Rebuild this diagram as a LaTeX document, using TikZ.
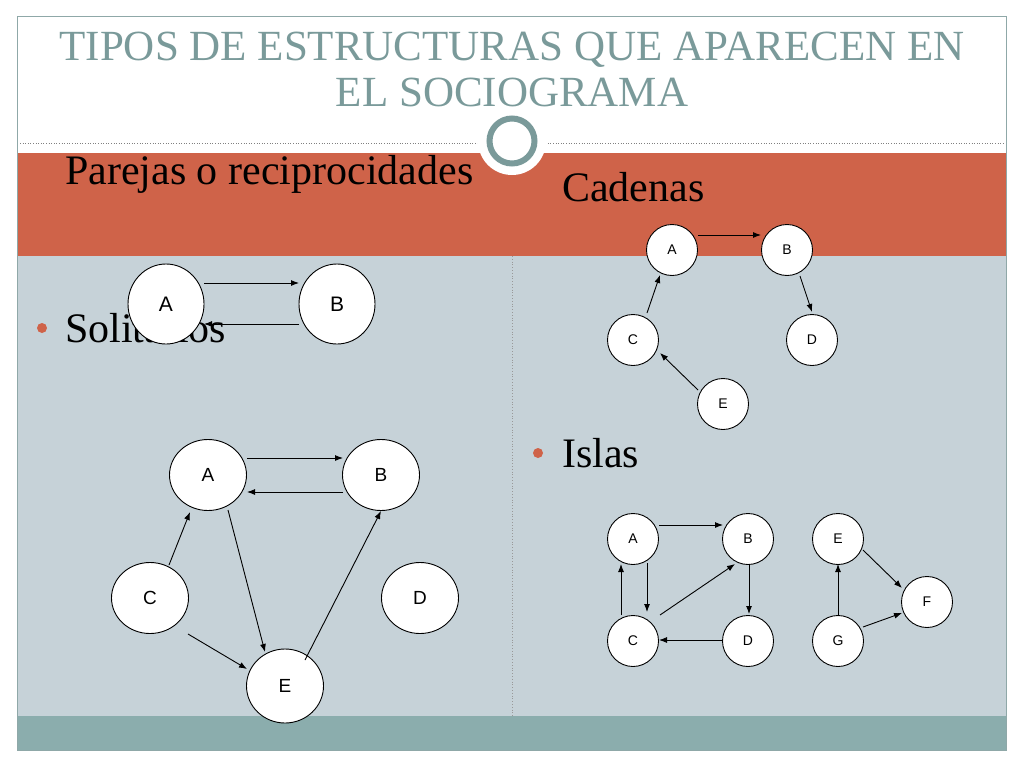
\documentclass[tikz,border=0pt]{standalone}
\usepackage{fontspec}
\setmainfont{Liberation Serif}
\newfontfamily\sansf{Liberation Sans}
\usetikzlibrary{arrows.meta,calc,shapes.geometric}
\definecolor{orangeband}{HTML}{CF6349}
\definecolor{bodybg}{HTML}{C6D2D8}
\definecolor{tealband}{HTML}{8BADAD}
\definecolor{titlecol}{HTML}{7A9A9A}
\definecolor{framecol}{HTML}{8FA8A8}
\tikzset{
  bignode/.style={ellipse, draw=black, line width=0.9pt, fill=white, inner sep=0pt,
    font=\sansf\fontsize{19}{19}\selectfont},
  smallnode/.style={ellipse, draw=black, line width=0.9pt, fill=white, inner sep=0pt,
    minimum width=51pt, minimum height=51pt, font=\sansf\fontsize{14}{14}\selectfont},
  arr/.style={line width=0.9pt, -{Latex[length=8pt,width=6pt]}},
  bodytext/.style={anchor=base west, inner sep=0pt, font=\fontsize{42}{50}\selectfont},
  titletext/.style={anchor=base, inner sep=0pt, text=titlecol, font=\fontsize{43}{50}\selectfont},
  bulletdot/.style={circle, fill=orangeband, inner sep=0pt, minimum size=10pt}
}
\begin{document}
\begin{tikzpicture}[x=1pt,y=-1pt]
\useasboundingbox (0,0) rectangle (1024,768);
% frame and bands
\fill[white] (0,0) rectangle (1024,768);
\fill[orangeband] (17,153) rectangle (1006,256);
\fill[bodybg] (17,256) rectangle (1006,716);
\fill[tealband] (17,716) rectangle (1006,750);
\draw[framecol, line width=1pt] (17,17) rectangle (1006,750);
\draw[gray, line width=0.6pt, dotted] (20,143) -- (1004,143);
\draw[gray!80, line width=0.8pt, dotted] (512,256) -- (512,716);
% circle ornament
\fill[white] (512,141) circle (34);
\draw[titlecol, line width=6pt] (512,141) circle (22.5);
% title
\node[titletext] (t1) at (512,60) {TIPOS DE ESTRUCTURAS QUE APARECEN EN};
\node[titletext] (t2) at (512,106) {EL SOCIOGRAMA};
% section texts
\node[bodytext] (par) at (65,184) {Parejas o reciprocidades};
\node[bodytext] (cad) at (562,201) {Cadenas};
\node[bodytext] (sol) at (65,342) {Solitarios};
\node[bodytext] (isl) at (562,467) {Islas};
\node[bulletdot] (b1) at (42,328) {};
\node[bulletdot] (b2) at (538,453) {};
% Parejas
\node[bignode, minimum width=76pt, minimum height=80pt, font=\sansf\fontsize{21}{21}\selectfont] (pA) at (166,304) {A};
\node[bignode, minimum width=76pt, minimum height=80pt, font=\sansf\fontsize{21}{21}\selectfont] (pB) at (337,304) {B};
\draw[arr] ($(pA)+(38,-21)$) -- ($(pB)+(-38,-21)$);
\draw[arr] ($(pB)+(-38,20)$) -- ($(pA)+(38,20)$);
% Solitarios graph
\node[bignode, minimum width=77pt, minimum height=71pt] (sA) at (208,475) {A};
\node[bignode, minimum width=77pt, minimum height=71pt] (sB) at (381,475) {B};
\node[bignode, minimum width=77pt, minimum height=71pt] (sC) at (150,598) {C};
\node[bignode, minimum width=77pt, minimum height=71pt] (sD) at (420,598) {D};
\node[bignode, minimum width=77pt, minimum height=74pt] (sE) at (285,686) {E};
\draw[arr] ($(sA)+(39,-17)$) -- ($(sB)+(-38,-17)$);
\draw[arr] ($(sB)+(-38,17)$) -- ($(sA)+(39,17)$);
\draw[arr] ($(sC)+(19,-33)$) -- ($(sA)+(-18,37)$);
\draw[arr] ($(sA)+(20,35)$) -- ($(sE)+(-20,-34)$);
\draw[arr] ($(sC)+(38,36)$) -- ($(sE)+(-38,-17)$);
\draw[arr] ($(sE)+(20,-26)$) -- ($(sB)+(0,36)$);
% Cadenas graph
\node[smallnode] (cA) at (672,250) {A};
\node[smallnode] (cB) at (787,250) {B};
\node[smallnode] (cC) at (633,340) {C};
\node[smallnode] (cD) at (812,340) {D};
\node[smallnode] (cE) at (723,404) {E};
\draw[arr] ($(cA)+(26,-15)$) -- ($(cB)+(-26,-15)$);
\draw[arr] ($(cB)+(13,26)$) -- ($(cD)+(0,-28)$);
\draw[arr] ($(cC)+(14,-27)$) -- ($(cA)+(-12,25)$);
\draw[arr] ($(cE)+(-25,-14)$) -- ($(cC)+(27,13)$);
% Islas graph
\node[smallnode] (iA) at (633,539) {A};
\node[smallnode] (iB) at (748,539) {B};
\node[smallnode] (iC) at (633,641) {C};
\node[smallnode] (iD) at (748,641) {D};
\node[smallnode] (iE) at (838,539) {E};
\node[smallnode] (iF) at (927,602) {F};
\node[smallnode] (iG) at (838,641) {G};
\draw[arr] ($(iA)+(26,-14)$) -- ($(iB)+(-25,-14)$);
\draw[arr] ($(iA)+(14,24)$) -- ($(iC)+(14,-29)$);
\draw[arr] ($(iC)+(-12,-26)$) -- ($(iA)+(-12,25)$);
\draw[arr] ($(iC)+(27,-26)$) -- ($(iB)+(-13,25)$);
\draw[arr] ($(iB)+(1,26)$) -- ($(iD)+(1,-27)$);
\draw[arr] ($(iD)+(-25,-1)$) -- ($(iC)+(26,-1)$);
\draw[arr] ($(iG)+(0,-26)$) -- ($(iE)+(0,25)$);
\draw[arr] ($(iE)+(25,11)$) -- ($(iF)+(-25,-14)$);
\draw[arr] ($(iG)+(25,-14)$) -- ($(iF)+(-25,11)$);
\end{tikzpicture}
\end{document}
